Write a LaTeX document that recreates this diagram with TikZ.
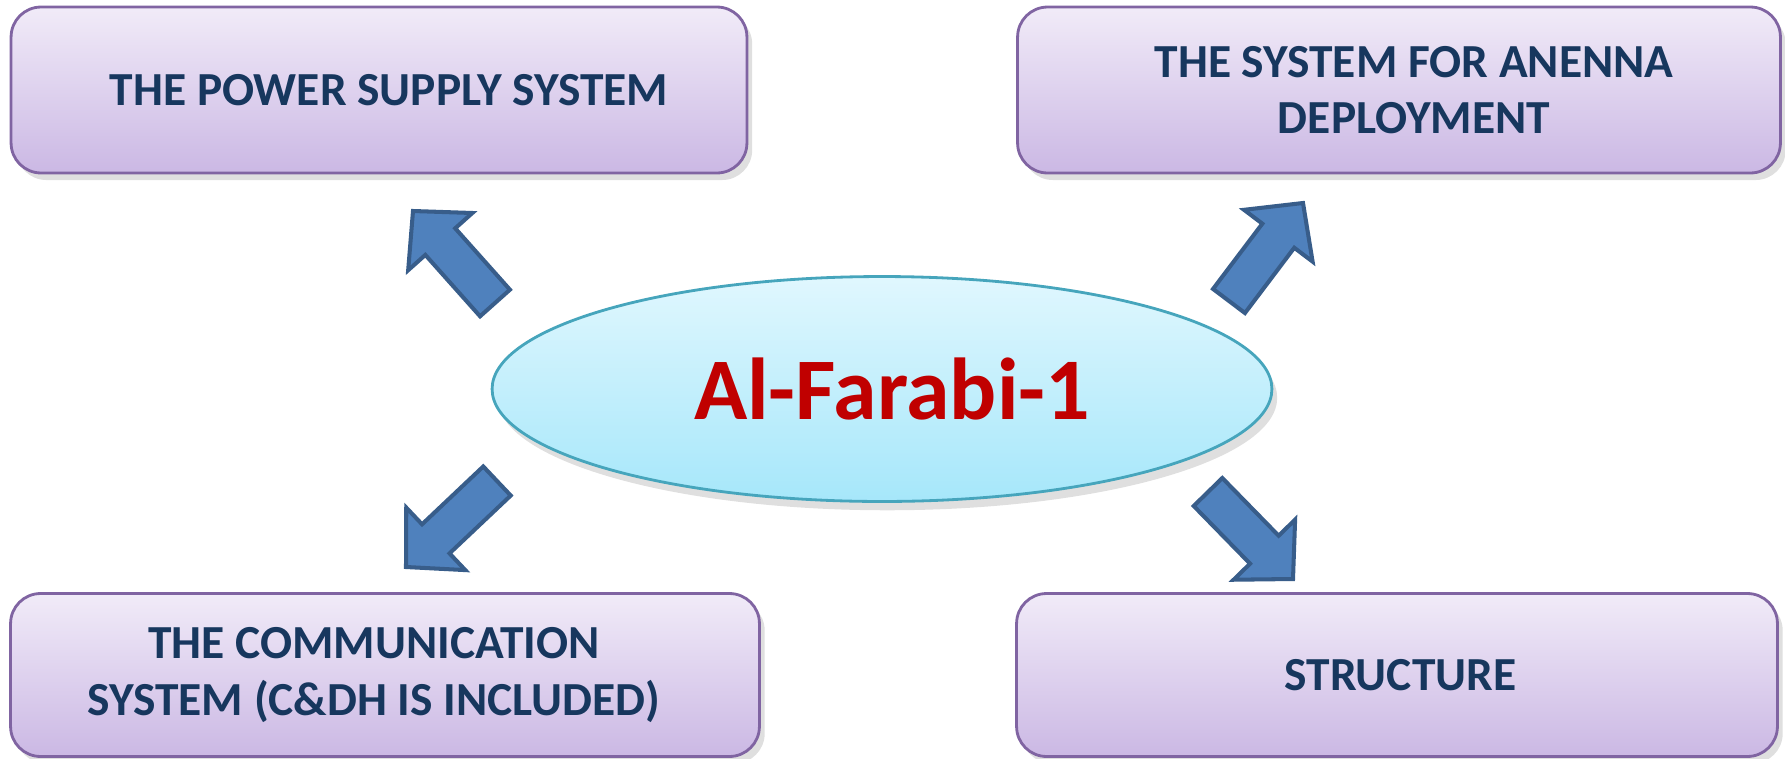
\documentclass[tikz,border=0pt]{standalone}
\usepackage{fontspec}
\setmainfont{Carlito}
\usetikzlibrary{positioning,calc,shadows,shapes.geometric}
\definecolor{boxtop}{HTML}{F1EBF8}
\definecolor{boxbottom}{HTML}{CBB8E4}
\definecolor{boxedge}{HTML}{8064A2}
\definecolor{boxtext}{HTML}{17375E}
\definecolor{hubtop}{HTML}{E0F7FE}
\definecolor{hubbottom}{HTML}{A6E7FA}
\definecolor{hubedge}{HTML}{46A5BC}
\definecolor{titlered}{HTML}{C00000}
\definecolor{arrowfill}{HTML}{4F81BD}
\definecolor{arrowedge}{HTML}{385D8A}

\begin{document}
\begin{tikzpicture}[x=0.02cm,y=-0.02cm]
\tikzstyle{topic} = [shape=rectangle, rounded corners=0.6cm, draw=boxedge, line width=1.6pt, top color=boxtop, bottom color=boxbottom, text=boxtext, font=\fontsize{27}{32}\selectfont\bfseries, align=center, drop shadow={shadow xshift=3pt, shadow yshift=-4pt, opacity=0.25}];
\tikzstyle{hub} = [shape=ellipse, draw=hubedge, line width=1.6pt, top color=hubtop, bottom color=hubbottom, text=titlered, font=\fontsize{50}{58}\selectfont\bfseries, minimum width=15.6cm, minimum height=4.5cm, inner sep=0pt, drop shadow={shadow xshift=3pt, shadow yshift=-5pt, opacity=0.25}];
\tikzstyle{bigarrow} = [fill=arrowfill, draw=arrowedge, line width=2.3pt, line join=miter];

\useasboundingbox (0,0) rectangle (1785,758);

\node[topic, minimum width=14.72cm, minimum height=3.32cm](Power) at (379,90) {\hspace*{0.4cm}THE POWER SUPPLY SYSTEM};
\node[topic, minimum width=15.26cm, minimum height=3.32cm](Antenna) at (1399,90) {\hspace*{0.6cm}THE SYSTEM FOR ANENNA\\\hspace*{0.6cm}DEPLOYMENT};
\node[topic, minimum width=14.98cm, minimum height=3.26cm](Comm) at (385,675) {THE COMMUNICATION\hspace*{0.44cm}\\SYSTEM (C\&DH IS INCLUDED)\hspace*{0.44cm}};
\node[topic, minimum width=15.22cm, minimum height=3.26cm](Structure) at (1397,675) {\hspace*{0.15cm}STRUCTURE};

\node[hub](Sat) at (882,389) {\hspace*{0.4cm}Al-Farabi-1};

% block arrows from the hub out to the four topics
\coordinate (pwrTail) at (495,303); \coordinate (pwrTip) at (413,211);
\coordinate (antTail) at (1229,301); \coordinate (antTip) at (1303,203);
\coordinate (comTail) at (497,481); \coordinate (comTip) at (406,567);
\coordinate (strTail) at (1208,492); \coordinate (strTip) at (1293,579);

\foreach \t/\h in {pwrTail/pwrTip, antTail/antTip, comTail/comTip, strTail/strTip}{
  \coordinate (neck) at ($(\h)!0.82cm!(\t)$);
  \draw[bigarrow] ($(\t)!0.4cm!90:(\h)$) -- ($(neck)!0.4cm!90:(\h)$) -- ($(neck)!0.86cm!90:(\h)$) -- (\h)
    -- ($(neck)!0.86cm!-90:(\h)$) -- ($(neck)!0.4cm!-90:(\h)$) -- ($(\t)!0.4cm!-90:(\h)$) -- cycle;
}
\end{tikzpicture}
\end{document}
